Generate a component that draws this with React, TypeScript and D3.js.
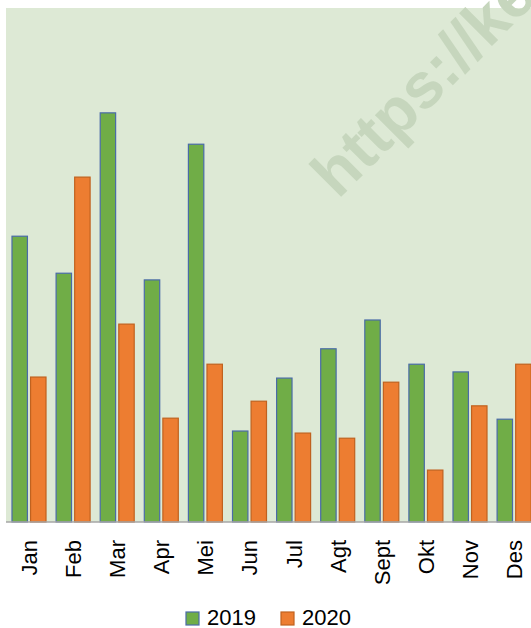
import React from "react";
import { scaleBand, scaleLinear } from "d3";

const months = ["Jan", "Feb", "Mar", "Apr", "Mei", "Jun", "Jul", "Agt", "Sept", "Okt", "Nov", "Des"];
const years = ["2019", "2020"];
const values2019 = [55.6, 48.4, 79.6, 47.1, 73.5, 17.7, 28.0, 33.7, 39.3, 30.7, 29.2, 20.0];
const values2020 = [28.2, 67.1, 38.5, 20.2, 30.7, 23.5, 17.3, 16.3, 27.2, 10.1, 22.6, 30.7];

const fills: Record<string, string> = { "2019": "#70AD47", "2020": "#ED7D31" };
const strokes: Record<string, string> = { "2019": "#4A6BA8", "2020": "#C0621F" };

function App() {
  const width = 531;
  const height = 628;
  const plot = { left: 6, top: 8, right: 540, bottom: 522 };
  const font = "'Liberation Sans', Arial, sans-serif";

  const xScale = scaleBand<string>()
    .domain(months)
    .range([7, 7 + 12 * 44.1]);

  const xInner = scaleBand<string>()
    .domain(years)
    .range([5, 39])
    .paddingInner(0.17);

  const yScale = scaleLinear().domain([0, 100]).range([plot.bottom, plot.top]);

  const series = [values2019, values2020];

  return (
    <svg width={width} height={height} style={{ position: "absolute", left: 0, top: 0 }}>
      {/* plot area */}
      <rect x={plot.left} y={plot.top} width={plot.right - plot.left} height={plot.bottom - plot.top} fill="#DDE9D5" />
      {/* watermark, cut at the right edge like the original */}
      <text
        transform="translate(338,200) rotate(-45)"
        fontFamily={font}
        fontWeight="bold"
        fontSize={64}
        fill="#C6D6BD"
      >
        https://ke
      </text>
      {/* bars */}
      {months.map((m, i) => (
        <g key={m} transform={`translate(${xScale(m)},0)`}>
          {years.map((yr, j) => {
            const v = series[j][i];
            return (
              <rect
                key={yr}
                x={xInner(yr)}
                y={yScale(v)}
                width={xInner.bandwidth()}
                height={plot.bottom - yScale(v)}
                fill={fills[yr]}
                stroke={strokes[yr]}
                strokeWidth={1.2}
              />
            );
          })}
        </g>
      ))}
      {/* x axis */}
      <line x1={plot.left} x2={width} y1={plot.bottom} y2={plot.bottom} stroke="#A6A6A6" strokeWidth={1.3} />
      {months.map((m) => (
        <text
          key={m}
          transform={`translate(${xScale(m)! + xScale.bandwidth() / 2},540) rotate(-90)`}
          textAnchor="end"
          dy="0.36em"
          fontFamily={font}
          fontSize={22}
          fill="#000"
        >
          {m}
        </text>
      ))}
      {/* legend */}
      {years.map((yr, j) => (
        <g key={yr} transform={`translate(${186 + j * 95},612)`}>
          <rect x={0} y={0} width={13} height={13} fill={fills[yr]} stroke={strokes[yr]} strokeWidth={1.2} />
          <text x={21} y={12.5} fontFamily={font} fontSize={22} fill="#000">
            {yr}
          </text>
        </g>
      ))}
    </svg>
  );
}

export default App;
